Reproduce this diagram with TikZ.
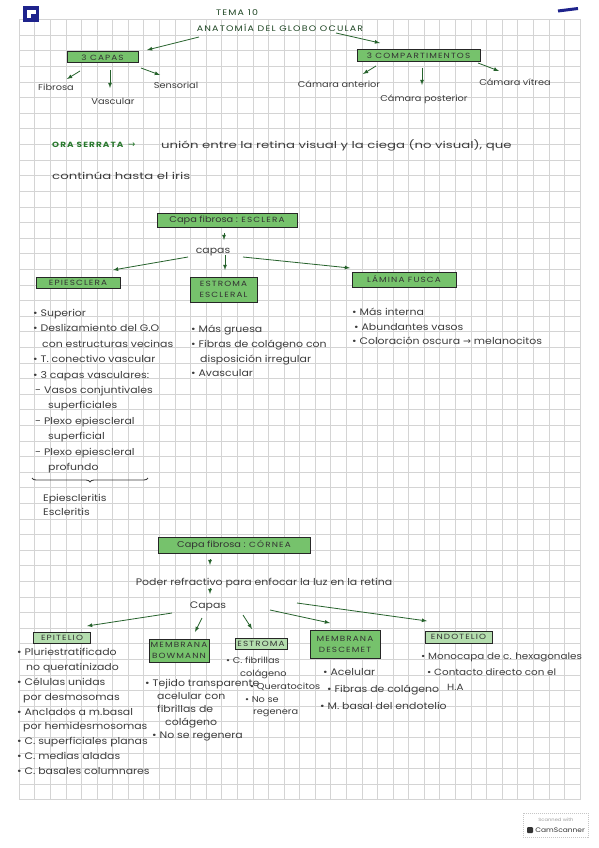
\documentclass[tikz,border=0pt]{standalone}
\usepackage{fontspec}
\setmainfont{Poppins}[FakeStretch=1.15]
\newfontfamily\capsfont{Poppins}[LetterSpace=15, FakeStretch=1.18]
\newfontfamily\widefont{Poppins}[FakeStretch=1.4]
\newfontfamily\symfont{DejaVu Sans}
\usetikzlibrary{positioning, calc, decorations.pathreplacing}

\definecolor{boxgreen}{RGB}{118,194,108}
\definecolor{arrowgreen}{RGB}{38,98,44}
\definecolor{titlegreen}{RGB}{30,70,35}
\definecolor{orag}{RGB}{40,120,45}
\definecolor{ink}{RGB}{60,60,60}
\definecolor{gridgray}{RGB}{212,212,212}
\definecolor{camblue}{RGB}{30,35,140}

\tikzset{
  capa/.style={draw=black!85, line width=1pt, fill=boxgreen, text=black!80, inner sep=0pt,
    align=center, font=\capsfont\fontsize{7.5}{11}\selectfont},
  capaclara/.style={capa, fill=boxgreen!55},
  txt/.style={text=ink, inner sep=0pt, font=\fontsize{9.5}{11}\selectfont},
  rotulo/.style={txt, font=\fontsize{8.5}{10}\selectfont},
  lista/.style={txt, anchor=north west, align=left, font=\fontsize{9.5}{#1}\selectfont},
  arr/.style={->, >=latex, draw=arrowgreen, line width=0.8pt},
}

\begin{document}
\begin{tikzpicture}[x=1pt, y=-1pt]
\useasboundingbox (0,0) rectangle (599,848);
\fill[white] (0,0) rectangle (599,848);

% grid paper
\foreach \gx in {19,34.58,...,585} \draw[gridgray, line width=0.4pt] (\gx,19.5) -- (\gx,800);
\foreach \gy in {19.5,35.1,...,801} \draw[gridgray, line width=0.4pt] (19,\gy) -- (580,\gy);

% scanner marks
\fill[camblue] (23,6) rectangle (39,22);
\fill[white] (27,10) rectangle (36,14);
\fill[white] (27,10) rectangle (31,18);
\draw[camblue, line width=3pt] (558,11) -- (578,8.5);

% title
\node[txt, text=titlegreen, font=\capsfont\fontsize{8}{9}\selectfont] (tema) at (237,13) {TEMA 10};
\node[txt, text=titlegreen, font=\capsfont\fontsize{8}{9}\selectfont] (globo) at (280,28) {ANATOMÍA DEL GLOBO OCULAR};

\node[capa, minimum width=71pt, minimum height=11pt] (capas3) at (102.5,57.5) {3 CAPAS};
\node[capa, minimum width=123pt, minimum height=12pt] (comp) at (418.5,56) {3 COMPARTIMENTOS};

\node[rotulo] (fibrosa) at (56,87) {Fibrosa};
\node[rotulo] (vascular) at (113,101) {Vascular};
\node[rotulo] (sensorial) at (176,85) {Sensorial};
\node[rotulo] (anterior) at (339,84) {Cámara anterior};
\node[rotulo] (posterior) at (424,99) {Cámara posterior};
\node[rotulo] (vitrea) at (515,82) {Cámara vítrea};

\draw[arr] ($(globo)+(-81,9)$) -- ($(capas3)+(44.5,-7.5)$);
\draw[arr] ($(globo)+(56,5)$) -- ($(comp)+(-38.5,-13)$);
\draw[arr] ($(capas3)+(-22.5,13.5)$) -- ($(fibrosa)+(11,-8)$);
\draw[arr] ($(capas3)+(7.5,12.5)$) -- ($(vascular)+(-3,-13)$);
\draw[arr] ($(capas3)+(38.5,10.5)$) -- ($(sensorial)+(-16,-10)$);
\draw[arr] ($(comp)+(-42.5,10)$) -- ($(anterior)+(24,-10)$);
\draw[arr] ($(comp)+(3.5,12)$) -- ($(posterior)+(-2,-14)$);
\draw[arr] ($(comp)+(59.5,7)$) -- ($(vitrea)+(-16,-11)$);

% ora serrata
\node[txt, anchor=west, text=orag, font=\capsfont\bfseries\fontsize{7.5}{8}\selectfont] (ora) at (52,145) {ORA SERRATA};
\node[txt, text=orag, font=\symfont\fontsize{9}{9}\selectfont, right=4pt of ora] (flecha) {→};
\node[txt, anchor=west, font=\widefont\fontsize{9.5}{11}\selectfont] (union) at (161,145) {unión entre la retina visual y la ciega (no visual), que};
\node[txt, anchor=west, font=\widefont\fontsize{9.5}{11}\selectfont] (iris) at (52,176) {continúa hasta el iris};

% capa fibrosa: esclera
\node[capa, font=\fontsize{8.5}{9}\selectfont, minimum width=140pt, minimum height=14pt] (esclera) at (227,220.5)
  {Capa fibrosa : {\capsfont\fontsize{7.5}{8}\selectfont ESCLERA}};
\node[txt] (capasE) at (213,252) {capas};
\node[capa, minimum width=84pt, minimum height=11pt] (epiesclera) at (78,282.5) {EPIESCLERA};
\node[capa, minimum width=67pt, minimum height=25pt] (estromaE) at (223.5,289.5) {ESTROMA\\ESCLERAL};
\node[capa, minimum width=104pt, minimum height=15pt] (fusca) at (404,279.5) {LÁMINA FUSCA};

\draw[arr] ($(esclera)+(-3,12.5)$) -- ($(capasE)+(11,-12)$);
\draw[arr] ($(capasE)+(-25,5)$) -- ($(epiesclera)+(35,-12.5)$);
\draw[arr] ($(capasE)+(12,3)$) -- ($(estromaE)+(1.5,-19.5)$);
\draw[arr] ($(capasE)+(30,5)$) -- ($(fusca)+(-54,-11.5)$);

\node[lista=15.4] (epiLista) at (33,309) {• Superior\\
  • Deslizamiento del G.O\\
  \hspace*{9pt}con estructuras vecinas\\
  • T. conectivo vascular\\
  • 3 capas vasculares:\\
  \hspace*{2pt}- Vasos conjuntivales\\
  \hspace*{15pt}superficiales\\
  \hspace*{2pt}- Plexo epiescleral\\
  \hspace*{15pt}superficial\\
  \hspace*{2pt}- Plexo epiescleral\\
  \hspace*{15pt}profundo};
\draw[ink, line width=0.9pt, decorate, decoration={brace, mirror, amplitude=4pt}] (32,478) -- (148,478);
\node[lista=14] (epiNotas) at (43,494) {Epiescleritis\\Escleritis};

\node[lista=14.7] (estromaLista) at (191,325) {• Más gruesa\\
  • Fibras de colágeno con\\
  \hspace*{9pt}disposición irregular\\
  • Avascular};
\node[lista=14.5] (fuscaLista) at (352,308) {• Más interna\\
  \hspace*{2pt}• Abundantes vasos\\
  • Coloración oscura {\symfont →} melanocitos};

% capa fibrosa: cornea
\node[capa, font=\fontsize{8.5}{9}\selectfont, minimum width=152pt, minimum height=16pt] (cornea) at (234,545)
  {Capa fibrosa : {\capsfont\fontsize{7.5}{8}\selectfont CÓRNEA}};
\node[txt] (poder) at (264,583) {Poder refractivo para enfocar la luz en la retina};
\node[txt] (capasC) at (208,606) {Capas};
\node[capaclara, minimum width=57pt, minimum height=11pt] (epitelio) at (62,637.5) {EPITELIO};
\node[capa, minimum width=60pt, minimum height=23pt] (bowmann) at (179,650.5) {MEMBRANA\\BOWMANN};
\node[capaclara, minimum width=52pt, minimum height=11pt] (estromaC) at (261,644) {ESTROMA};
\node[capa, minimum width=70pt, minimum height=28pt] (descemet) at (345,644) {MEMBRANA\\DESCEMET};
\node[capaclara, minimum width=67pt, minimum height=12pt] (endotelio) at (458.5,637) {ENDOTELIO};

\draw[arr] ($(cornea)+(-24,14)$) -- ($(poder)+(-54,-18)$);
\draw[arr] ($(poder)+(-54,5)$) -- ($(capasC)+(2,-12)$);
\draw[arr] ($(capasC)+(-36,7)$) -- ($(epitelio)+(25,-11.5)$);
\draw[arr] ($(capasC)+(-6,12)$) -- ($(bowmann)+(16,-18.5)$);
\draw[arr] ($(capasC)+(35,9)$) -- ($(estromaC)+(-9,-15)$);
\draw[arr] ($(capasC)+(62,4)$) -- ($(descemet)+(-15,-21)$);
\draw[arr] ($(capasC)+(89,-3)$) -- ($(endotelio)+(-31.5,-16)$);

\node[lista=14.9] (epiteLista) at (17,648) {• Pluriestratificado\\
  \hspace*{9pt}no queratinizado\\
  • Células unidas\\
  \hspace*{6pt}por desmosomas\\
  • Anclados a m.basal\\
  \hspace*{6pt}por hemidesmosomas\\
  • C. superficiales planas\\
  • C. medias aladas\\
  • C. basales columnares};
\node[lista=13] (bowmannLista) at (145,679) {• Tejido transparente\\
  \hspace*{12pt}acelular con\\
  \hspace*{12pt}fibrillas de\\
  \hspace*{20pt}colágeno\\
  \hspace*{7pt}• No se regenera};
\node[lista=12.8, font=\fontsize{8.5}{12.8}\selectfont] (estromaLista2) at (226,657) {• C. fibrillas\\
  \hspace*{14pt}colágeno\\
  \hspace*{24pt}• Queratocitos\\
  \hspace*{19pt}• No se\\
  \hspace*{27pt}regenera};
\node[lista=17] (descemetLista) at (320,668) {\hspace*{3pt}• Acelular\\
  \hspace*{7pt}• Fibras de colágeno\\
  • M. basal del endotelio};
\node[lista=15.5, font=\fontsize{9}{15.5}\selectfont] (endoteLista) at (421,653) {• Monocapa de c. hexagonales\\
  \hspace*{6pt}• Contacto directo con el\\
  \hspace*{26pt}H.A};

% scanner stamp
\draw[gray!45, line width=0.4pt, dash pattern=on 1pt off 1pt] (523,813) rectangle (588,837);
\node[txt, text=gray!75, font=\fontsize{4.5}{5}\selectfont] (scanned) at (556,820) {Scanned with};
\node[fill=black!80, minimum size=6pt, inner sep=0pt, rounded corners=1pt] (camlogo) at (530,830) {};
\node[txt, text=black!80, font=\fontsize{6.5}{7}\selectfont, right=2pt of camlogo] (camtext) {CamScanner};
\end{tikzpicture}
\end{document}
